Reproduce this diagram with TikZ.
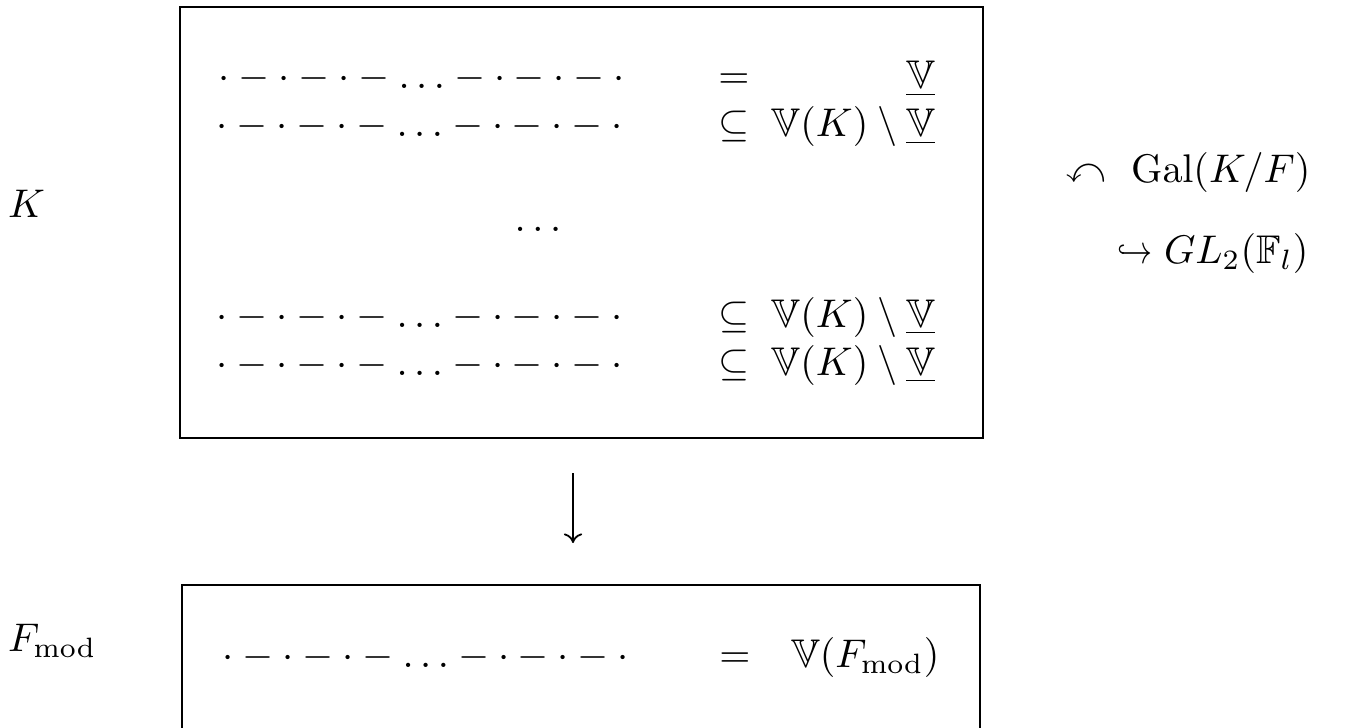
\documentclass[tikz,border=0pt]{standalone}
\usepackage{amssymb}
\usetikzlibrary{arrows.meta}

% one chain of vertices and edges
\newcommand\dashchain{$\cdot - \cdot - \cdot - \ldots - \cdot - \cdot - \cdot$}

\begin{document}
\begin{tikzpicture}[x=0.25pt,y=-0.25pt,
  every node/.style={inner sep=0pt, outer sep=0pt},
  frame/.style={draw, line width=0.4pt, anchor=north west},
  lefttext/.style={anchor=base west},
  righttext/.style={anchor=base east},
  midtext/.style={anchor=base},
  maparrow/.style={line width=0.45pt, -{To[length=2.4pt,width=4.6pt]}}]
\clip (0,0) rectangle (1345,727);

% frames of the two levels
\node[frame, minimum width=200.75pt, minimum height=107.75pt] (upper) at (180,7) {};
\node[frame, minimum width=199.5pt, minimum height=60pt] (lower) at (182,585) {};

% field labels
\node[lefttext] (K) at (8,217) {$K$};
\node[lefttext] (Fmod) at (8,651) {$F_{\mathrm{mod}}$};

% chains over K
\node[lefttext] (c1) at (218.5,89) {\dashchain};
\node[lefttext] (c2) at (216.5,137) {\dashchain};
\node[midtext] (vdots) at (538,231) {$\ldots$};
\node[lefttext] (c3) at (216.5,327) {\dashchain};
\node[lefttext] (c4) at (216.5,375) {\dashchain};

\node[midtext] (r1) at (734,89) {$=$};
\node[midtext] (r2) at (734,137) {$\subseteq$};
\node[midtext] (r3) at (734,327) {$\subseteq$};
\node[midtext] (r4) at (734,375) {$\subseteq$};

\node[righttext] (s1) at (935,89) {$\underline{\mathbb{V}}$};
\node[righttext] (s2) at (935,137) {$\mathbb{V}(K)\setminus\underline{\mathbb{V}}$};
\node[righttext] (s3) at (935,327) {$\mathbb{V}(K)\setminus\underline{\mathbb{V}}$};
\node[righttext] (s4) at (935,375) {$\mathbb{V}(K)\setminus\underline{\mathbb{V}}$};

% Galois action
\node[lefttext] (act) at (1066,182) {$\curvearrowleft$};
\node[lefttext] (gal) at (1131,182) {$\mathrm{Gal}(K/F)$};
\node[lefttext] (hook) at (1117,263) {\scalebox{0.8}[1]{$\hookrightarrow$}};
\node[lefttext] (gl) at (1164,263) {$GL_2(\mathbb{F}_l)$};

% chain over F_mod
\node[lefttext] (c5) at (222.5,667) {\dashchain};
\node[midtext] (r5) at (735,667) {$=$};
\node[lefttext] (s5) at (791,667) {$\mathbb{V}(F_{\mathrm{mod}})$};

% reduction map
\coordinate (mapx) at (573,0);
\draw[maparrow, shorten <=35*0.25pt, shorten >=42*0.25pt]
  (upper.south -| mapx) -- (lower.north -| mapx);
\end{tikzpicture}
\end{document}
